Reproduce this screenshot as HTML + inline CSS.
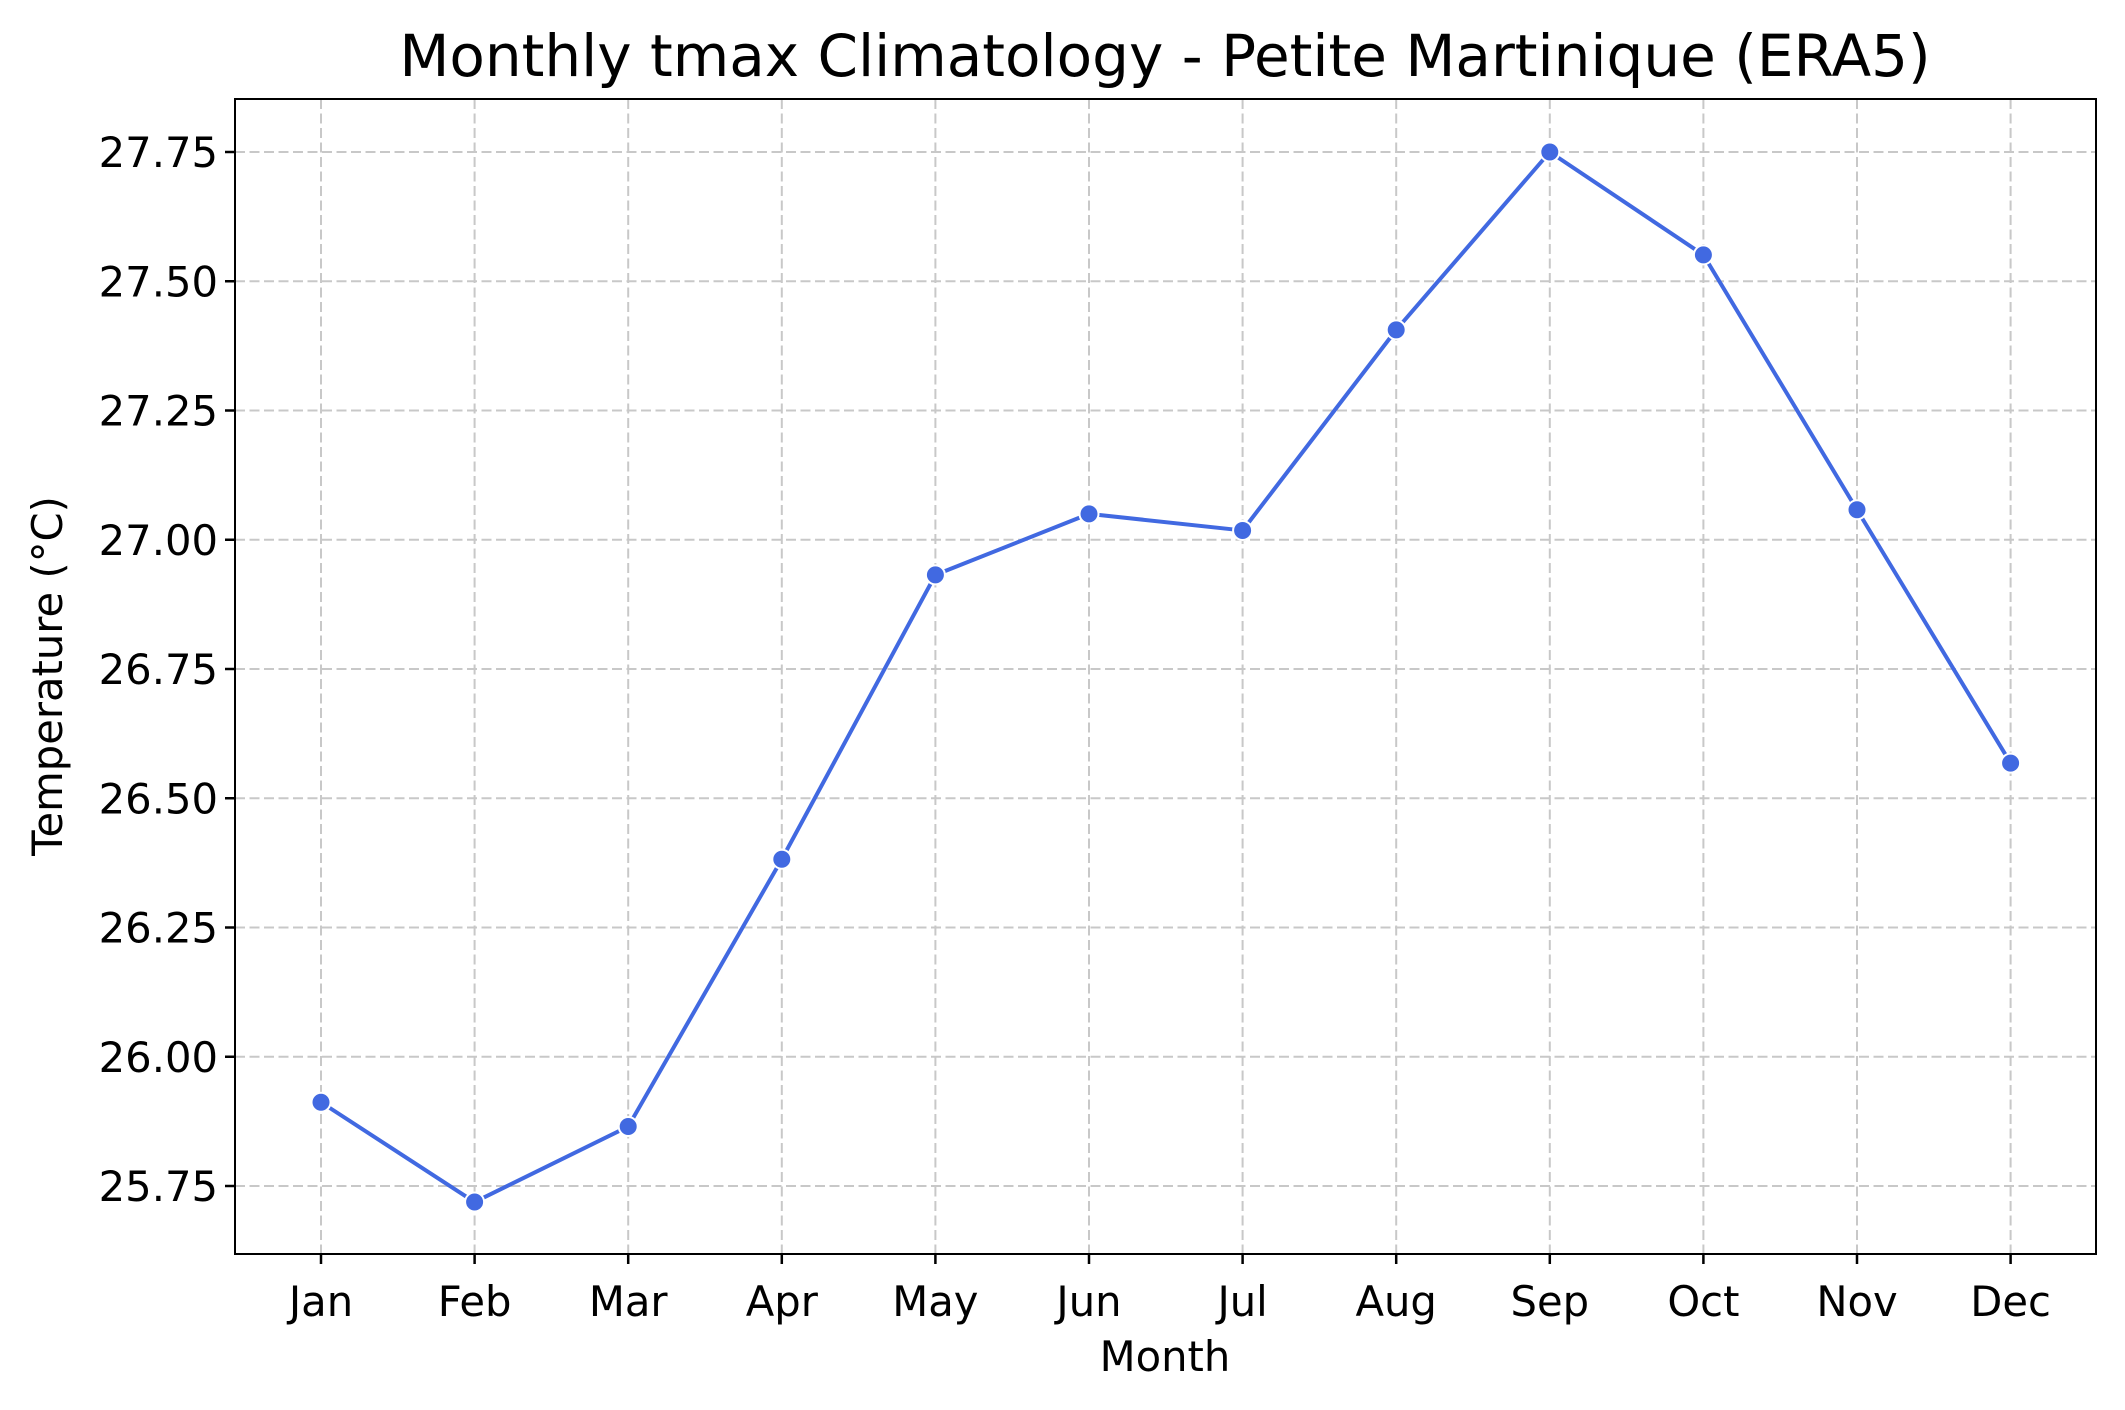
<!DOCTYPE html>
<html><head><meta charset="utf-8"><style>
body{margin:0;background:#fff}
svg{display:block;font-family:"DejaVu Sans","Liberation Sans",sans-serif}
</style></head><body>
<svg id="chart" width="2125" height="1410" viewBox="0 0 2125 1410" xmlns="http://www.w3.org/2000/svg">
<rect width="2125" height="1410" fill="#fff"/>
<text x="1165" y="76" font-size="58" text-anchor="middle">Monthly tmax Climatology - Petite Martinique (ERA5)</text>
<g id="grid"></g>
<g id="ticks"></g>
<g id="series"></g>
<rect x="235" y="99" width="1861" height="1155" fill="none" stroke="#000" stroke-width="2"/>
<text x="1165" y="1371" font-size="41.7" text-anchor="middle">Month</text>
<text x="0" y="0" font-size="41.7" text-anchor="middle" transform="translate(62,676) rotate(-90)">Temperature (°C)</text>
</svg>
<script>
const months = ["Jan","Feb","Mar","Apr","May","Jun","Jul","Aug","Sep","Oct","Nov","Dec"];
const tmax = [25.912,25.719,25.865,26.382,26.932,27.050,27.018,27.406,27.750,27.551,27.058,26.568];
const yTicks = [25.75,26.00,26.25,26.50,26.75,27.00,27.25,27.50,27.75];
const yTickLabels = ["25.75","26.00","26.25","26.50","26.75","27.00","27.25","27.50","27.75"];

const NS="http://www.w3.org/2000/svg";
const L=235,R=2096,T=99,B=1254;
function xs(i){return 321+i*153.6;}
function ys(v){return 152+(27.75-v)*517;}
function mk(tag,attrs,parent){const e=document.createElementNS(NS,tag);for(const k in attrs)e.setAttribute(k,attrs[k]);parent.appendChild(e);return e;}
const grid=document.getElementById('grid'),ticks=document.getElementById('ticks'),series=document.getElementById('series');
yTicks.forEach((v,i)=>{
  const y=ys(v);
  const g=mk('line',{x1:L,x2:R,y1:y,y2:y,stroke:'#c8c8c8','stroke-width':2,'stroke-dasharray':'10,4.5'},grid);
  
  
  const t=mk('line',{x1:L-10,x2:L,y1:y,y2:y,stroke:'#000','stroke-width':2.5},ticks);
  
  
  const l=mk('text',{x:L-17,y:y+15,'font-size':41.7,'text-anchor':'end'},ticks);
  
  
  l.textContent=yTickLabels[i];
});
months.forEach((m,i)=>{
  const x=xs(i);
  const g=mk('line',{x1:x,x2:x,y1:T,y2:B,stroke:'#c8c8c8','stroke-width':2,'stroke-dasharray':'10,4.5'},grid);
  
  
  const t=mk('line',{x1:x,x2:x,y1:B,y2:B+10,stroke:'#000','stroke-width':2.5},ticks);
  
  
  const l=mk('text',{x:x,y:1316,'font-size':41.7,'text-anchor':'middle'},ticks);
  
  
  l.textContent=m;
});
const pts=tmax.map((v,i)=>xs(i)+','+ys(v)).join(' ');
const line=mk('polyline',{points:pts,fill:'none',stroke:'#4169e1','stroke-width':4,'stroke-linejoin':'round'},series);


tmax.forEach((v,i)=>{
  const c=mk('circle',{cx:xs(i),cy:ys(v),r:9.5,fill:'#4169e1',stroke:'#fff','stroke-width':2},series);
  
  
});
</script>
</body></html>
